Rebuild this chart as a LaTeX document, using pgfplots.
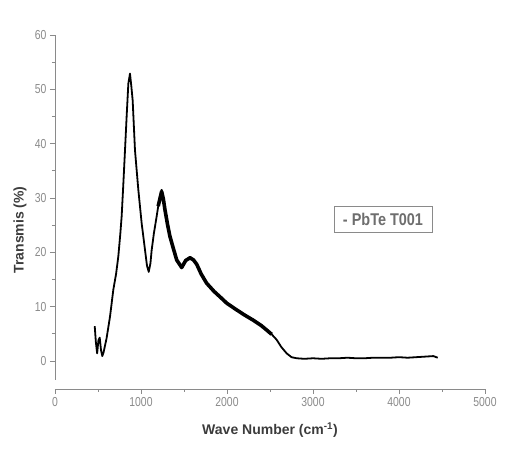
\documentclass[border=0pt]{standalone}
\usepackage{fontspec}
\setmainfont{Liberation Sans}
\newfontfamily\tickfont[FakeStretch=0.8]{Liberation Sans}
\newfontfamily\legfont[FakeStretch=0.85]{Liberation Sans}
\usepackage{pgfplots}
\pgfplotsset{compat=1.18}
\definecolor{axgray}{HTML}{8A8A8A}
\definecolor{labgray}{HTML}{3C3C3C}
\definecolor{leggray}{HTML}{6E6E6E}
\begin{document}
\begin{tikzpicture}
\useasboundingbox (-55pt,-69pt) rectangle (451pt,380pt);
\begin{axis}[
  at={(0pt,0pt)}, anchor=south west,
  scale only axis, width=430pt, height=345pt,
  xmin=0, xmax=5000, ymin=-3.5, ymax=60,
  axis lines*=left,
  axis x line shift=9pt,
  axis line style={axgray, line width=0.9pt},
  xtick={0,1000,...,5000}, ytick={0,10,...,60},
  minor x tick num=1, minor y tick num=1,
  tick align=outside, major tick length=5pt, minor tick length=3pt,
  tick style={axgray, line width=0.8pt},
  ticklabel style={font=\tickfont\fontsize{13}{13}\selectfont, text=axgray},
  /pgf/number format/assume math mode=true,
  /pgf/number format/1000 sep={},
  scaled ticks=false,
  xlabel={Wave Number (cm\textsuperscript{-1})},
  ylabel={Transmis (\%)},
  label style={font=\bfseries\fontsize{14}{14}\selectfont, text=labgray},
  xlabel style={at={(axis description cs:0.5,0)}, anchor=center, yshift=-50pt},
  ylabel style={at={(axis description cs:-0.0814,0.435)}, anchor=center, rotate=0},
  legend style={at={(axis cs:3814,26)}, anchor=center, draw=axgray, line width=0.9pt,
    font=\legfont\bfseries\fontsize{17}{17}\selectfont, text=leggray,
    inner xsep=7pt, inner ysep=4pt},
  legend image code/.code={},
  clip=false,
]
\addplot[black, line width=1.8pt, line join=round] coordinates {
(462,6.4) (475,3.5) (490,1.4) (505,3.8) (520,4.3) (535,2.0) (550,0.9) (565,1.6)
(600,4.2) (640,8.2) (678,13.1) (710,16.0) (736,19.2) (760,23.5) (775,26.6)
(795,32.7) (814,38.8) (833,45.0) (853,51.1) (872,52.9) (888,50.5) (903,48.0)
(930,38.8) (969,31.5) (1008,25.3) (1047,20.4) (1070,17.5) (1090,16.4) (1110,18.0)
(1124,20.4) (1150,23.5) (1182,26.6) (1215,30.0) (1240,31.5) (1260,30.0) (1279,27.8)
(1310,25.0) (1337,22.9) (1380,20.5) (1415,18.6) (1473,17.2) (1520,18.5) (1570,19.0)
(1610,18.6) (1648,17.8) (1700,16.0) (1764,14.3) (1850,12.8) (1919,11.8) (2000,10.6)
(2113,9.4) (2200,8.5) (2306,7.5) (2400,6.5) (2461,5.7) (2520,4.9) (2578,3.9)
(2630,2.6) (2694,1.4) (2750,0.7) (2810,0.5) (2900,0.4) (3000,0.5) (3100,0.4)
(3200,0.5) (3300,0.5) (3400,0.6) (3500,0.5) (3600,0.5) (3700,0.6) (3800,0.6)
(3900,0.6) (4000,0.7) (4100,0.6) (4200,0.7) (4300,0.8) (4400,0.9) (4450,0.6)
};
\addlegendentry{- PbTe T001}
\addplot[black, line width=3.6pt, line join=round, forget plot] coordinates {
(1200,28.5) (1240,31.2) (1260,29.8) (1279,27.8)
(1310,25.0) (1337,22.9) (1380,20.5) (1415,18.6) (1473,17.2) (1520,18.5) (1570,19.0)
(1610,18.6) (1648,17.8) (1700,16.0) (1764,14.3) (1850,12.8) (1919,11.8) (2000,10.6)
(2113,9.4) (2200,8.5) (2306,7.5) (2400,6.5) (2461,5.7) (2520,4.9)
};
\end{axis}
\end{tikzpicture}
\end{document}
